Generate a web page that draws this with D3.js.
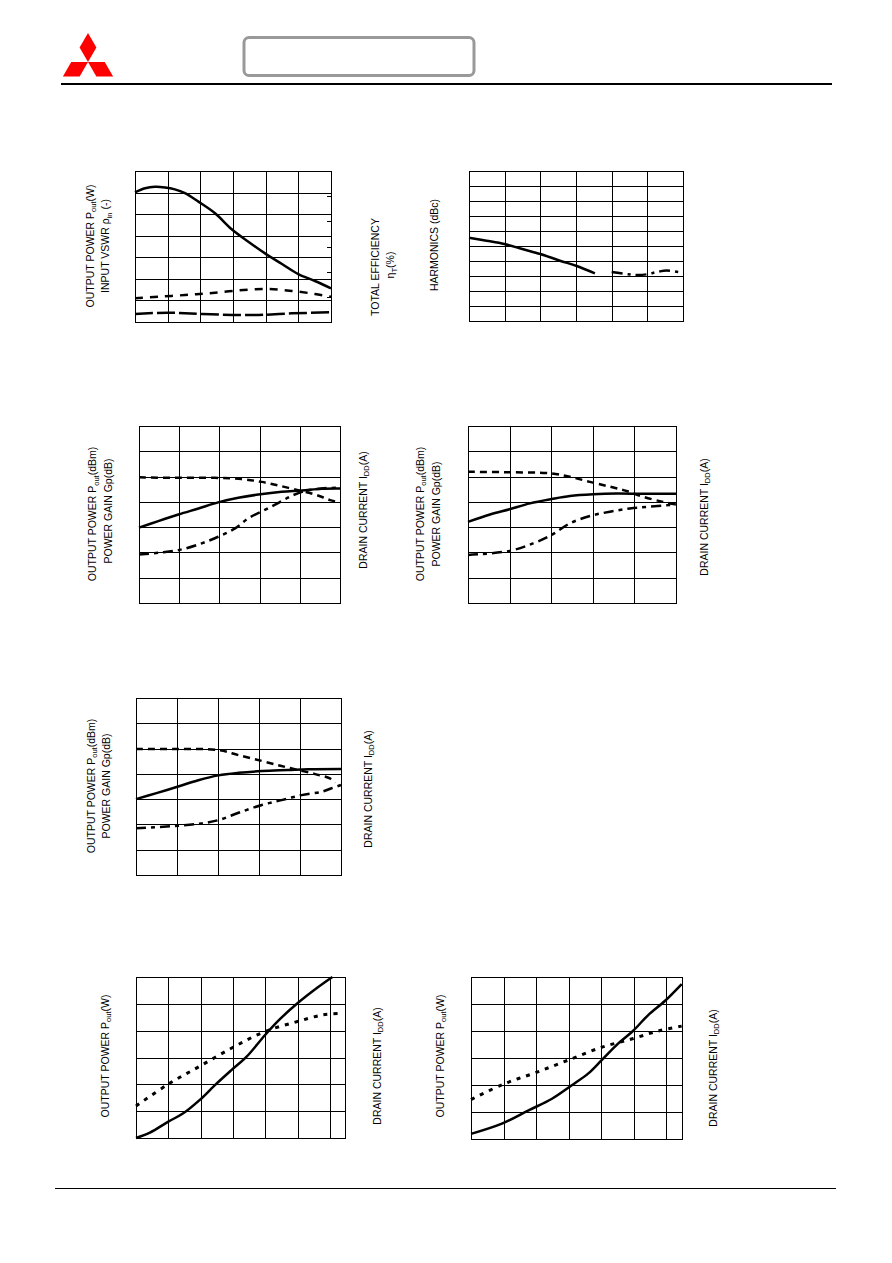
<!DOCTYPE html>
<html><head><meta charset="utf-8">
<script src="https://cdn.jsdelivr.net/npm/d3@7"></script>
<style>body{margin:0;background:#fff}svg{display:block}</style>
</head><body><svg id="c" width="892" height="1263"></svg>
<script>
// ---------- DATA (grid units: x = columns, y = rows) ----------
// Panel 1: Pout(W) / VSWR / efficiency
const p1Cols = 6, p1Rows = 7, p1RightTicks = 6;
const p1SolidX = [0, 0.31, 0.61, 0.92, 1.22, 1.53, 1.94, 2.45, 2.96, 3.47, 3.98, 4.5, 5.0, 5.51, 6];
const p1SolidY = [6.01, 6.2, 6.27, 6.24, 6.15, 5.97, 5.58, 5.04, 4.3, 3.72, 3.18, 2.69, 2.22, 1.9, 1.56];
const p1DashX = [0, 0.71, 1.53, 2.24, 3.06, 3.98, 4.8, 5.51, 6];
const p1DashY = [1.1, 1.17, 1.25, 1.33, 1.45, 1.53, 1.44, 1.3, 1.17];
const p1LongX = [0, 1.0, 2.06, 3.6, 4.8, 6];
const p1LongY = [0.37, 0.43, 0.37, 0.32, 0.4, 0.45];
// Panel 2: harmonics
const p2Cols = 6, p2Rows = 10;
const p2SolidX = [0, 0.49, 0.99, 1.52, 2.0, 2.55, 3.02, 3.53];
const p2SolidY = [5.55, 5.35, 5.13, 4.78, 4.47, 4.02, 3.67, 3.18];
const p2DashDotX = [4.0, 4.42, 4.7, 4.98, 5.31, 5.54, 5.96];
const p2DashDotY = [3.27, 3.13, 3.07, 3.11, 3.29, 3.36, 3.22];
// Panel 3
const p3Cols = 5, p3Rows = 7;
const p3DashX = [0, 0.9, 1.89, 2.55, 3.05, 3.54, 4.04, 4.29, 4.54, 4.75, 5];
const p3DashY = [4.97, 4.95, 4.95, 4.9, 4.79, 4.62, 4.43, 4.33, 4.2, 4.07, 3.98];
const p3SolidX = [0, 0.48, 0.98, 1.48, 1.97, 2.47, 2.97, 3.55, 4.05, 4.54, 5];
const p3SolidY = [2.98, 3.24, 3.5, 3.74, 3.98, 4.16, 4.29, 4.4, 4.45, 4.52, 4.53];
const p3DashDotX = [0, 0.56, 1.06, 1.56, 1.97, 2.39, 2.72, 3.13, 3.47, 3.8, 4.13, 4.54, 5];
const p3DashDotY = [1.92, 2.0, 2.12, 2.36, 2.62, 2.95, 3.35, 3.68, 3.96, 4.24, 4.43, 4.53, 4.56];
// Panel 4
const p4Cols = 5, p4Rows = 7;
const p4DashX = [0, 1.0, 1.97, 2.45, 2.93, 3.41, 3.81, 4.21, 4.69, 5];
const p4DashY = [5.19, 5.17, 5.13, 4.99, 4.79, 4.6, 4.43, 4.2, 4.0, 3.9];
const p4SolidX = [0, 0.53, 1.0, 1.49, 2.01, 2.45, 3.01, 3.57, 4.21, 5];
const p4SolidY = [3.21, 3.5, 3.71, 3.94, 4.11, 4.23, 4.3, 4.33, 4.32, 4.32];
const p4DashDotX = [0, 1.0, 1.57, 2.01, 2.45, 2.93, 3.41, 3.89, 4.37, 5];
const p4DashDotY = [1.9, 2.06, 2.36, 2.69, 3.15, 3.44, 3.61, 3.74, 3.81, 3.9];
// Panel 5
const p5Cols = 5, p5Rows = 7;
const p5DashX = [0, 0.95, 2.01, 2.5, 3.07, 3.55, 3.96, 4.37, 4.73, 4.85];
const p5DashY = [4.98, 4.98, 4.94, 4.74, 4.51, 4.31, 4.15, 3.99, 3.82, 3.64];
const p5SolidX = [0, 0.5, 1.03, 1.52, 2.01, 2.5, 3.07, 3.71, 4.2, 5];
const p5SolidY = [3.0, 3.24, 3.5, 3.75, 3.94, 4.04, 4.11, 4.15, 4.18, 4.19];
const p5DashDotX = [0, 0.95, 1.6, 2.01, 2.5, 3.07, 3.55, 4.04, 4.53, 4.77, 5];
const p5DashDotY = [1.85, 1.94, 2.04, 2.17, 2.46, 2.77, 2.96, 3.16, 3.29, 3.43, 3.56];
// Panel 6
const p6XMax = 6.46, p6Rows = 6;
const p6SolidX = [0, 0.43, 1.0, 1.46, 1.99, 2.44, 2.95, 3.42, 3.99, 4.44, 4.99, 5.58, 6.07];
const p6SolidY = [0, 0.2, 0.61, 0.92, 1.44, 1.97, 2.53, 3.03, 3.84, 4.42, 5.02, 5.58, 6.0];
const p6DashX = [0, 1.0, 1.98, 3.0, 3.99, 4.99, 5.78, 6.35];
const p6DashY = [1.19, 2.01, 2.68, 3.38, 3.97, 4.34, 4.59, 4.65];
// Panel 7
const p7XMax = 6.49, p7Rows = 6;
const p7SolidX = [0, 0.95, 1.77, 2.49, 3.1, 3.61, 4.02, 4.53, 4.99, 5.45, 5.97, 6.48];
const p7SolidY = [0.19, 0.57, 1.06, 1.49, 1.99, 2.43, 2.92, 3.54, 4.01, 4.59, 5.12, 5.74];
const p7DashX = [0, 0.99, 1.97, 2.99, 4.0, 4.99, 5.76, 6.48];
const p7DashY = [1.46, 2.03, 2.45, 2.92, 3.39, 3.72, 4.0, 4.18];

// ---------- DRAWING ----------
const svg = d3.select("#c");
const FONT = "'Liberation Sans', Arial, sans-serif";

// header logo
const logo = svg.append("g").attr("fill", "#ff0000");
const cx = 88, cy = 62, L = 29, hw = 8.4;
function rhomb(angleDeg) {
  const a = angleDeg * Math.PI / 180;
  const dx = Math.cos(a), dy = -Math.sin(a);
  const px = -dy, py = dx;
  const m = [cx + dx * L / 2, cy + dy * L / 2];
  return [[cx, cy], [m[0] + px * hw, m[1] + py * hw], [cx + dx * L, cy + dy * L], [m[0] - px * hw, m[1] - py * hw]];
}
[90, 210, 330].forEach(a => logo.append("path").attr("d", d3.line()(rhomb(a)) + "Z"));
svg.append("rect").attr("x", 244).attr("y", 37.5).attr("width", 230).attr("height", 38)
  .attr("rx", 5).attr("fill", "none").attr("stroke", "#999").attr("stroke-width", 3);
svg.append("line").attr("x1", 61).attr("x2", 832).attr("y1", 84).attr("y2", 84)
  .attr("stroke", "#000").attr("stroke-width", 2);
svg.append("line").attr("x1", 55).attr("x2", 836).attr("y1", 1188.5).attr("y2", 1188.5)
  .attr("stroke", "#000").attr("stroke-width", 1.2);

function panel(box, xMax, rows, series, rightTicks) {
  const g = svg.append("g");
  const x = d3.scaleLinear([0, xMax], [box[0], box[1]]);
  const y = d3.scaleLinear([0, rows], [box[3], box[2]]);
  const w = box[1] - box[0], h = box[3] - box[2];
  const vt = d3.range(1, Math.ceil(xMax)).filter(v => v < xMax - 0.01);
  const gx = g.append("g").attr("transform", `translate(0,${box[3]})`)
    .call(d3.axisBottom(x).tickValues(vt).tickSize(-h).tickFormat(""));
  const gy = g.append("g").attr("transform", `translate(${box[0]},0)`)
    .call(d3.axisLeft(y).tickValues(d3.range(1, rows)).tickSize(-w).tickFormat(""));
  [gx, gy].forEach(a => {
    a.select(".domain").remove();
    a.selectAll("line").attr("stroke", "#000").attr("stroke-width", 1).attr("shape-rendering", "crispEdges");
  });
  if (rightTicks) {
    const yr = d3.scaleLinear([0, rightTicks], [box[3], box[2]]);
    const gr = g.append("g").attr("transform", `translate(${box[1]},0)`)
      .call(d3.axisRight(yr).tickValues(d3.range(1, rightTicks)).tickSize(-4).tickFormat(""));
    gr.select(".domain").remove();
    gr.selectAll("line").attr("stroke", "#000").attr("shape-rendering", "crispEdges");
  }
  g.append("rect").attr("x", box[0]).attr("y", box[2]).attr("width", w).attr("height", h)
    .attr("fill", "none").attr("stroke", "#000").attr("stroke-width", 1).attr("shape-rendering", "crispEdges");
  const line = d3.line().x(d => x(d[0])).y(d => y(d[1])).curve(d3.curveCatmullRom.alpha(0.5));
  series.forEach(s => {
    g.append("path").attr("d", line(d3.zip(s.xs, s.ys))).attr("fill", "none")
      .attr("stroke", "#000").attr("stroke-width", s.w || 2.5)
      .attr("stroke-dasharray", s.dash || null).attr("stroke-linecap", "butt");
  });
}

function vlabel(x, y, parts) {
  const t = svg.append("text").attr("transform", `translate(${x},${y}) rotate(-90)`)
    .attr("text-anchor", "middle").attr("font-family", FONT).attr("font-size", "10.5px").attr("fill", "#000");
  let shifted = 0;
  parts.forEach(p => {
    const ts = t.append("tspan").text(p[0]);
    if (p[1]) { ts.attr("font-size", "7.5px").attr("dy", 2.5 - shifted); shifted = 2.5; }
    else if (shifted) { ts.attr("dy", -shifted); shifted = 0; }
  });
}

const DASH_MED = "8,7", DASH_LONG = "18,4", DASH_DOT = "11,5,3,5", DASH_SH = "7,5", DASH_DOT2 = "10,5,4,5", DASH_DOTS = "4,6";

panel([135, 331, 171, 322], p1Cols, p1Rows, [
  { xs: p1SolidX, ys: p1SolidY },
  { xs: p1DashX, ys: p1DashY, dash: DASH_MED },
  { xs: p1LongX, ys: p1LongY, dash: DASH_LONG }
], p1RightTicks);
panel([469, 683, 171, 321], p2Cols, p2Rows, [
  { xs: p2SolidX, ys: p2SolidY },
  { xs: p2DashDotX, ys: p2DashDotY, dash: DASH_DOT }
]);
panel([139, 340, 426, 603], p3Cols, p3Rows, [
  { xs: p3DashX, ys: p3DashY, dash: DASH_SH },
  { xs: p3SolidX, ys: p3SolidY },
  { xs: p3DashDotX, ys: p3DashDotY, dash: DASH_DOT2 }
]);
panel([468, 676, 426, 603], p4Cols, p4Rows, [
  { xs: p4DashX, ys: p4DashY, dash: DASH_SH },
  { xs: p4SolidX, ys: p4SolidY },
  { xs: p4DashDotX, ys: p4DashDotY, dash: DASH_DOT2 }
]);
panel([136, 341, 698, 875], p5Cols, p5Rows, [
  { xs: p5DashX, ys: p5DashY, dash: DASH_SH },
  { xs: p5SolidX, ys: p5SolidY },
  { xs: p5DashDotX, ys: p5DashDotY, dash: DASH_DOT2 }
]);
panel([136, 345, 977, 1138], p6XMax, p6Rows, [
  { xs: p6SolidX, ys: p6SolidY },
  { xs: p6DashX, ys: p6DashY, dash: DASH_DOTS, w: 3 }
]);
panel([471, 682, 977, 1139], p7XMax, p7Rows, [
  { xs: p7SolidX, ys: p7SolidY },
  { xs: p7DashX, ys: p7DashY, dash: DASH_DOTS, w: 3 }
]);

// labels
const poutW = [["OUTPUT POWER P"], ["out", 1], ["(W)"]];
const poutDbm = [["OUTPUT POWER P"], ["out", 1], ["(dBm)"]];
const gain = [["POWER GAIN Gp(dB)"]];
const idd = [["DRAIN CURRENT I"], ["DD", 1], ["(A)"]];
vlabel(93.5, 246, poutW);
vlabel(109, 246, [["INPUT VSWR ρ"], ["in", 1], [" (-)"]]);
vlabel(378.5, 267, [["TOTAL EFFICIENCY"]]);
vlabel(394, 265, [["η"], ["T", 1], ["(%)"]]);
vlabel(438, 245, [["HARMONICS (dBc)"]]);
vlabel(96, 514, poutDbm);
vlabel(111.5, 511, gain);
vlabel(366.5, 510, idd);
vlabel(423.5, 514, poutDbm);
vlabel(439.5, 514, gain);
vlabel(707.5, 517, idd);
vlabel(94.5, 786, poutDbm);
vlabel(110, 786, gain);
vlabel(371.5, 789, idd);
vlabel(108.5, 1056, poutW);
vlabel(380.5, 1066, idd);
vlabel(443.5, 1056, poutW);
vlabel(716.5, 1068, idd);
</script></body></html>
